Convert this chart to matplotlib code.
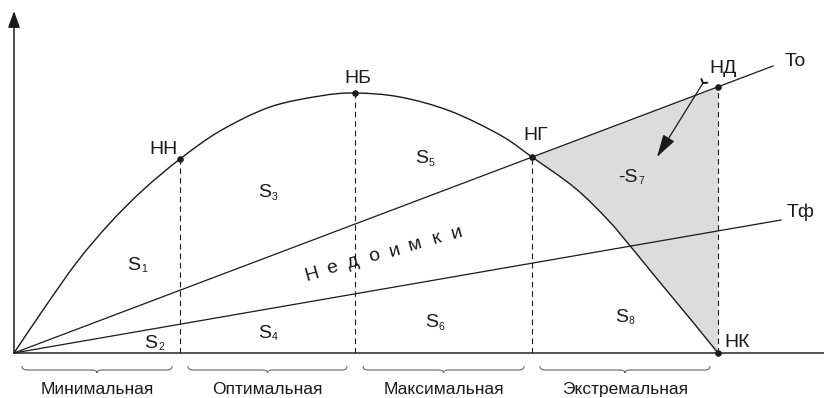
import numpy as np
import matplotlib
matplotlib.use("Agg")
import matplotlib.pyplot as plt
from matplotlib.path import Path
from matplotlib.patches import PathPatch

plt.rcParams['font.family'] = ['Liberation Sans', 'DejaVu Sans']

# Laffer-type curve (tax rate -> revenue)
curve_x = [0, 29, 63, 96, 129, 166, 206, 256, 306, 341, 386, 436, 486, 518, 561, 594, 617, 644, 678, 704]
curve_y = [0, 43, 91, 130, 163, 194, 222, 246, 257, 260, 256, 242, 218, 196, 165, 133, 106, 73, 32, 0]

# key points on the curve
point_names = ['НН', 'НБ', 'НГ', 'НД', 'НК']
point_x = [166, 341, 518, 704, 704]
point_y = [194, 260, 196, 266, 0]

# straight lines from origin: To (target) and Тф (actual)
to_end = (759, 287)
tf_end = (767, 133)

# zones under the x axis
zone_names = ['Минимальная', 'Оптимальная', 'Максимальная', 'Экстремальная']
zone_edges = [0, 166, 341, 518, 704]

# area labels: (main, subscript, x, baseline y)
area_labels = [('S', '1', 120, 83), ('S', '2', 137, 5), ('S', '3', 251, 156),
               ('S', '4', 251, 15), ('S', '5', 408, 190), ('S', '6', 418, 26),
               ('-S', '7', 617, 171), ('S', '8', 608, 31)]

ink = '#1a1a1a'


def smooth_segments(xs, ys):
    """Catmull-Rom segments through the points, as cubic bezier pieces"""
    p = np.column_stack([xs, ys]).astype(float)
    p = np.vstack([p[0], p, p[-1]])
    segs = []
    for i in range(1, len(p) - 2):
        c1 = p[i] + (p[i + 1] - p[i - 1]) / 6
        c2 = p[i + 1] - (p[i + 2] - p[i]) / 6
        segs.append((p[i], c1, c2, p[i + 1]))
    return segs


segs = smooth_segments(curve_x, curve_y)

fig = plt.figure(figsize=(8.24, 3.98), dpi=100)
ax = fig.add_axes([0, 0, 1, 1])
ax.set_xlim(-14, 810)
ax.set_ylim(-45, 353)
ax.axis('off')

# shaded negative area: НГ -> НД along To, down to НК, back up the curve
k0 = curve_x.index(point_x[2])
verts = [(point_x[2], point_y[2]), (point_x[3], point_y[3]), tuple(segs[-1][3])]
codes = [Path.MOVETO, Path.LINETO, Path.LINETO]
for a, c1, c2, b in reversed(segs[k0:]):
    verts += [tuple(c2), tuple(c1), tuple(a)]
    codes += [Path.CURVE4] * 3
verts.append(verts[0])
codes.append(Path.CLOSEPOLY)
ax.add_patch(PathPatch(Path(verts, codes), facecolor='#dcdcdc', edgecolor='none', zorder=1))

# axes
ax.plot([0, 810], [0, 0], color='#555555', lw=1.4, zorder=3, solid_capstyle='butt')
ax.annotate('', xy=(0, 342), xytext=(0, 0),
            arrowprops=dict(arrowstyle='-|>,head_length=0.5,head_width=0.18',
                            mutation_scale=20, lw=1.1, color=ink, shrinkA=0, shrinkB=0))

# curve (smooth) and rays
verts = [tuple(segs[0][0])]
codes = [Path.MOVETO]
for a, c1, c2, b in segs:
    verts += [tuple(c1), tuple(c2), tuple(b)]
    codes += [Path.CURVE4] * 3
ax.add_patch(PathPatch(Path(verts, codes), facecolor='none', edgecolor=ink, lw=1.0, zorder=4))
ax.plot([0, to_end[0]], [0, to_end[1]], color=ink, lw=0.9, zorder=4)
ax.plot([0, tf_end[0]], [0, tf_end[1]], color=ink, lw=0.9, zorder=4)

# dashed verticals
for x, y in zip(point_x[:4], point_y[:4]):
    ax.plot([x, x], [0, y], color=ink, lw=0.8, ls=(0, (5, 3.5)), zorder=3)

# points and their names
ax.scatter(point_x, point_y, s=14, color=ink, zorder=6)
name_pos = [(150, 199), (344, 270), (522, 213), (709, 280), (723, 6)]
for name, (tx, ty) in zip(point_names, name_pos):
    ax.text(tx, ty, name, fontsize=14, ha='center', va='baseline', color=ink)
ax.text(781, 287, 'То', fontsize=14, ha='center', va='baseline', color=ink)
ax.text(787, 136, 'Тф', fontsize=14, ha='center', va='baseline', color=ink)

# area labels S with small subscripts
for main, sub, x, y in area_labels:
    ax.text(x + 6.5, y, main, fontsize=14, ha='right', va='baseline', color=ink)
    ax.text(x + 7, y - 2.5, sub, fontsize=7.5, ha='left', va='baseline', color=ink)

# arrow pointing into -S7
tail = (689, 270)
tip = (643, 196)
ax.annotate('', xy=tip, xytext=tail,
            arrowprops=dict(arrowstyle='-|>,head_length=0.7,head_width=0.2',
                            mutation_scale=20, lw=0.9, color=ink, shrinkA=0, shrinkB=0),
            zorder=7)
d = np.array(tip) - np.array(tail)
d = d / np.hypot(*d)
perp = np.array([-d[1], d[0]])
for s in (1, -1):
    p = np.array(tail) - 2.5 * d + s * 3.5 * perp
    ax.plot([tail[0], p[0]], [tail[1], p[1]], color=ink, lw=1.4, solid_capstyle='round')

# "Недоимки" spelled out along the gap between the rays
word = 'Недоимки'
start = np.array([299, 74])
end = np.array([444, 116])
for i, ch in enumerate(word):
    p = start + (end - start) * i / (len(word) - 1)
    ax.text(p[0], p[1], ch, fontsize=14, rotation=16, rotation_mode='anchor',
            ha='center', va='baseline', color=ink)


# curly braces and zone names under the axis
def brace(x0, x1, y=-17, hook=4, dip=3):
    xc = (x0 + x1) / 2
    verts = [(x0, y + hook), (x0, y), (x0 + 5, y),
             (xc - 5, y), (xc, y), (xc, y - dip),
             (xc, y), (xc + 5, y),
             (x1 - 5, y), (x1, y), (x1, y + hook)]
    codes = [Path.MOVETO, Path.CURVE3, Path.CURVE3,
             Path.LINETO, Path.CURVE3, Path.CURVE3,
             Path.CURVE3, Path.CURVE3,
             Path.LINETO, Path.CURVE3, Path.CURVE3]
    ax.add_patch(PathPatch(Path(verts, codes), facecolor='none', edgecolor='#666666', lw=0.8))


for k, name in enumerate(zone_names):
    x0 = zone_edges[k] + 8
    x1 = zone_edges[k + 1] - 8
    brace(x0, x1)
    ax.text((x0 + x1) / 2, -41, name, fontsize=12.5, ha='center', va='baseline', color=ink)

fig.savefig('out.png', dpi=100)
